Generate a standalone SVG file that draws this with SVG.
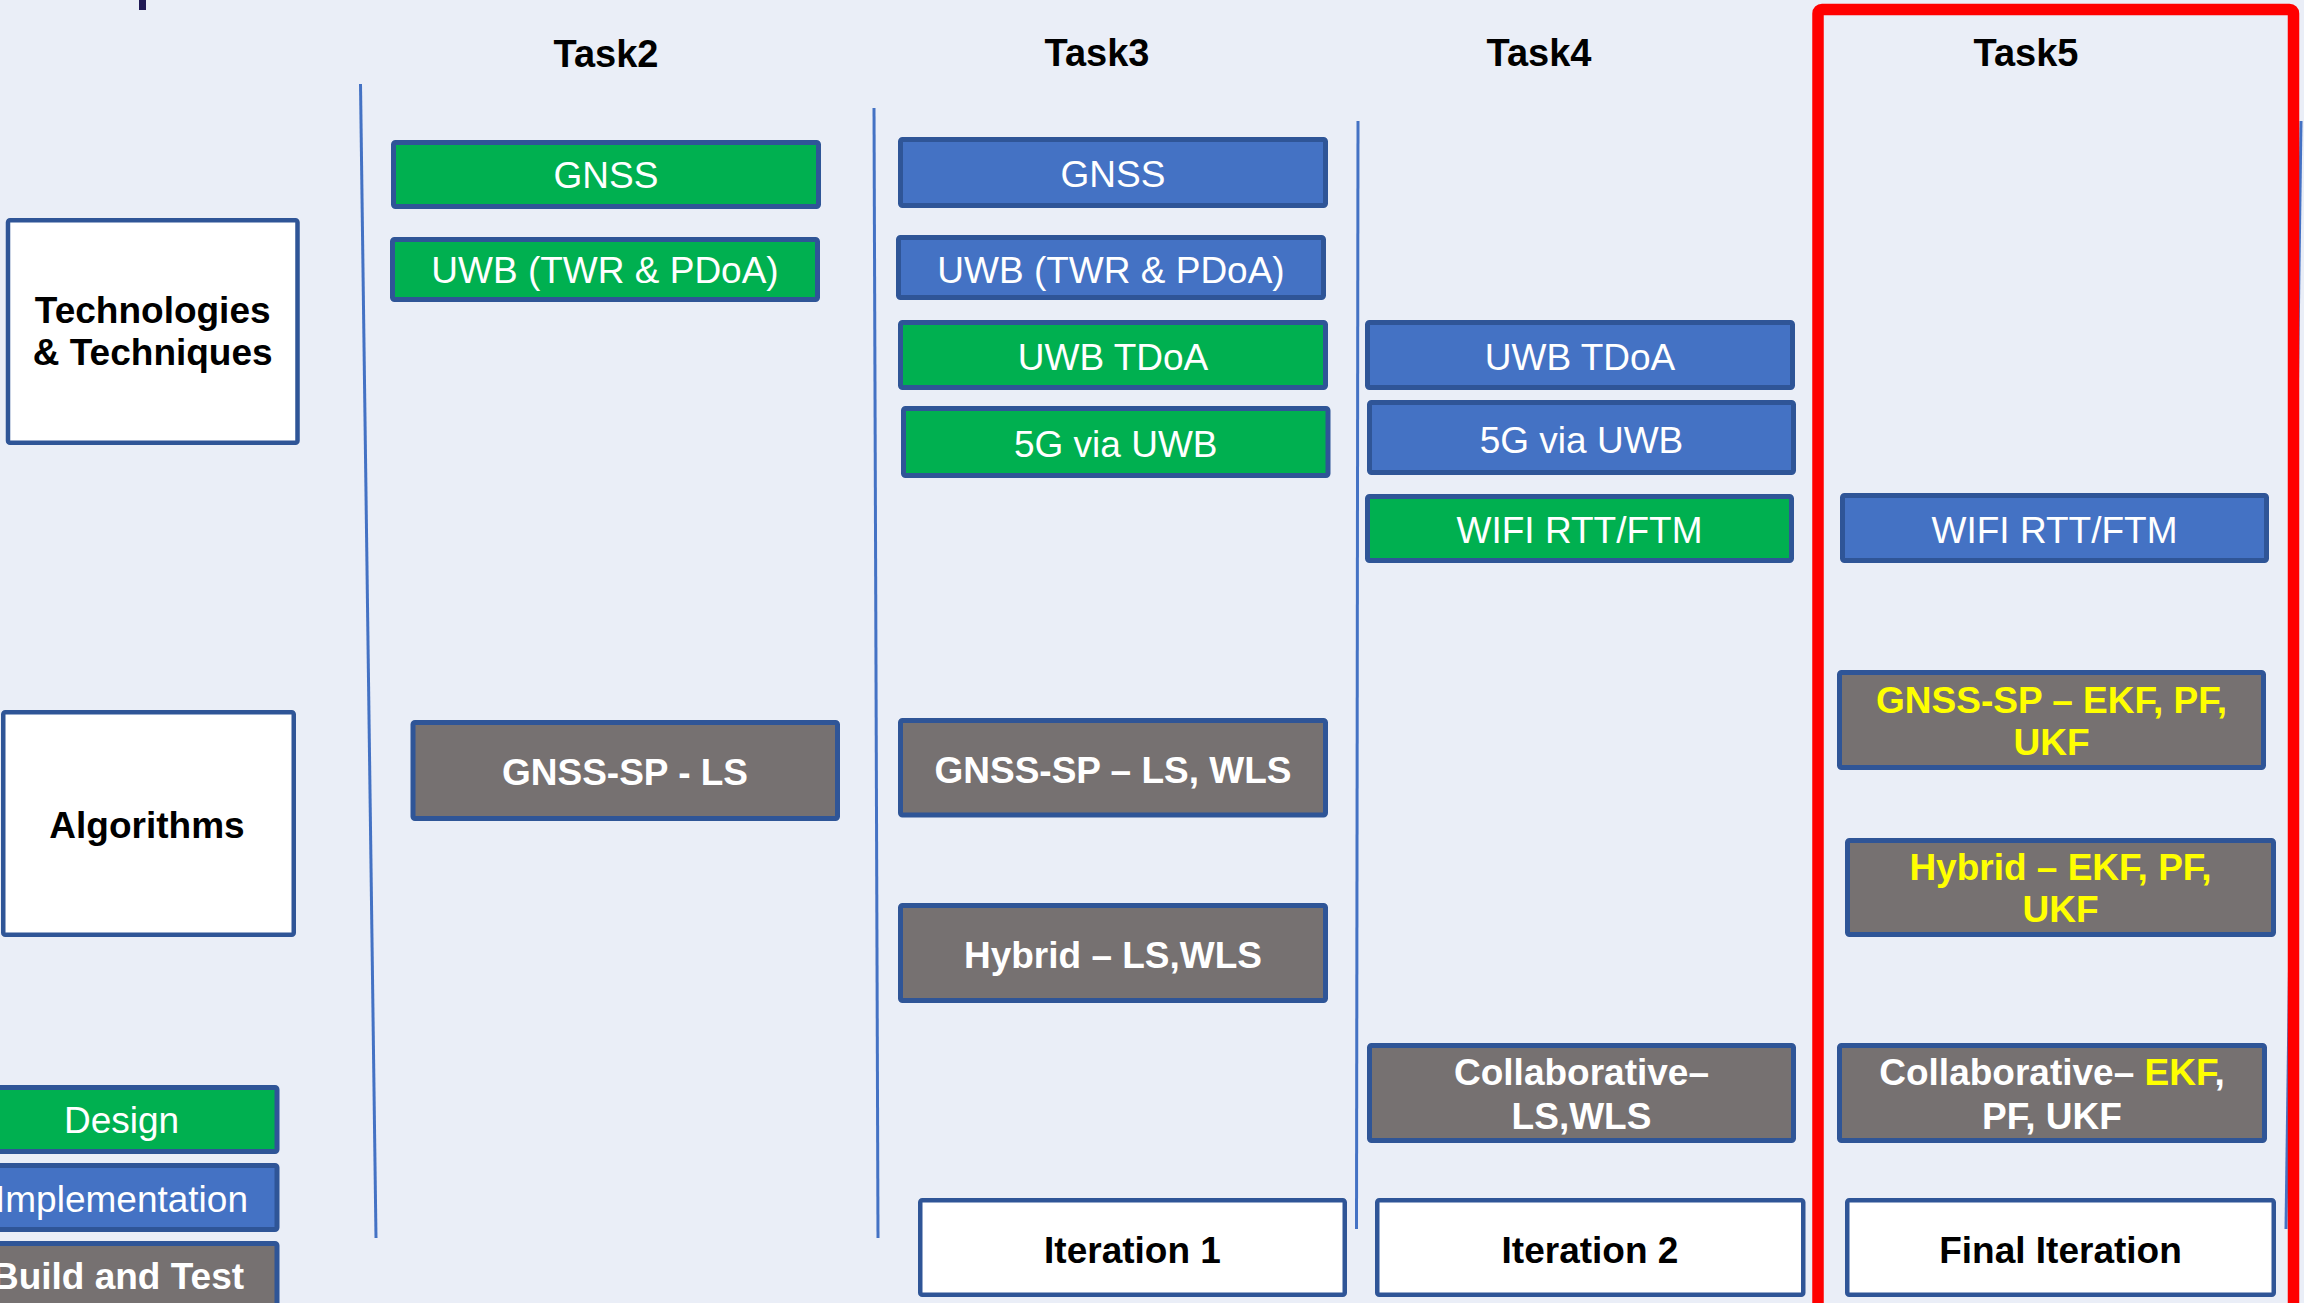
<svg xmlns="http://www.w3.org/2000/svg" width="2304" height="1303" viewBox="0 0 2304 1303">
<style>
  .bx { stroke: #2F5597; stroke-width: 5; }
  .wb { fill: #FFFFFF; stroke: #2F5597; stroke-width: 4.5; }
  .g { fill: #00B050; }
  .b { fill: #4472C4; }
  .k { fill: #767171; }
  text { font-family: "Liberation Sans", Arial, sans-serif; font-size: 37px; text-anchor: middle; }
  .t { fill: #FFFFFF; }
  .tb { fill: #FFFFFF; font-weight: bold; }
  .ty { fill: #FFFF00; font-weight: bold; }
  .hd { fill: #000000; font-weight: bold; font-size: 38px; }
  .lb { fill: #000000; font-weight: bold; }
  .vl { stroke: #4472C4; stroke-width: 3; fill: none; }
</style>
<rect x="0" y="0" width="2304" height="1303" fill="#EAEEF7"/>
<rect x="139" y="0" width="7" height="10" fill="#201A55"/>

<g id="connectors">
  <line class="vl" x1="360.5" y1="84" x2="376" y2="1238"/>
  <line class="vl" x1="874" y1="108" x2="878" y2="1238"/>
  <line class="vl" x1="1358" y1="121" x2="1356.5" y2="1229"/>
  <line class="vl" x1="2301" y1="121" x2="2286" y2="1229"/>
</g>

<g id="headers">
  <text class="hd" x="606" y="67">Task2</text>
  <text class="hd" x="1097" y="66">Task3</text>
  <text class="hd" x="1539" y="66">Task4</text>
  <text class="hd" x="2026" y="66">Task5</text>
</g>

<g id="task5-frame">
  <rect x="1818" y="9.5" width="475.5" height="1320" rx="4" fill="none" stroke="#FF0000" stroke-width="11.5"/>
</g>

<g id="tech-label">
  <rect class="wb" x="8" y="220.25" width="289.5" height="222.5" rx="2"/>
  <text class="lb" x="152.7" y="323">Technologies</text>
  <text class="lb" x="152.7" y="365">&amp; Techniques</text>
</g>
<g id="alg-label">
  <rect class="wb" x="3.25" y="712.25" width="290.5" height="222.5" rx="2"/>
  <text class="lb" x="147" y="838">Algorithms</text>
</g>
<g id="legend-design">
  <rect class="bx g" x="-40" y="1087.5" width="317" height="64" rx="2"/>
  <text class="t" x="121.5" y="1133">Design</text>
</g>
<g id="legend-impl">
  <rect class="bx b" x="-40" y="1165.5" width="317" height="64" rx="2"/>
  <text class="t" x="121.5" y="1212">Implementation</text>
</g>
<g id="legend-build">
  <rect class="bx k" x="-40" y="1243.5" width="317" height="70" rx="2"/>
  <text class="tb" x="118" y="1289">Build and Test</text>
</g>

<g id="t2-gnss">
  <rect class="bx g" x="393.5" y="142.5" width="425" height="64" rx="2"/>
  <text class="t" x="606" y="188">GNSS</text>
</g>
<g id="t2-uwb">
  <rect class="bx g" x="392.5" y="239.5" width="425" height="60" rx="2"/>
  <text class="t" x="605" y="283">UWB (TWR &amp; PDoA)</text>
</g>
<g id="t2-gnsssp">
  <rect class="bx k" x="413" y="722.5" width="424.5" height="96" rx="2"/>
  <text class="tb" x="625" y="784.5">GNSS-SP - LS</text>
</g>

<g id="t3-gnss">
  <rect class="bx b" x="900.5" y="139.5" width="425" height="66" rx="2"/>
  <text class="t" x="1113" y="187">GNSS</text>
</g>
<g id="t3-uwb">
  <rect class="bx b" x="898.5" y="237.5" width="425" height="60" rx="2"/>
  <text class="t" x="1111" y="282.5">UWB (TWR &amp; PDoA)</text>
</g>
<g id="t3-tdoa">
  <rect class="bx g" x="900.5" y="322.5" width="425" height="65" rx="2"/>
  <text class="t" x="1113" y="370">UWB TDoA</text>
</g>
<g id="t3-5g">
  <rect class="bx g" x="903.5" y="408.5" width="424.5" height="67" rx="2"/>
  <text class="t" x="1115.75" y="456.5">5G via UWB</text>
</g>
<g id="t3-gnsssp">
  <rect class="bx k" x="900.5" y="720.5" width="425" height="94.5" rx="2"/>
  <text class="tb" x="1113" y="782.5">GNSS-SP – LS, WLS</text>
</g>
<g id="t3-hybrid">
  <rect class="bx k" x="900.5" y="905.5" width="425" height="95" rx="2"/>
  <text class="tb" x="1113" y="967.5">Hybrid – LS,WLS</text>
</g>
<g id="iter1">
  <rect class="wb" x="920.25" y="1200.25" width="424.5" height="94.5" rx="2"/>
  <text class="lb" x="1132.5" y="1263">Iteration 1</text>
</g>

<g id="t4-tdoa">
  <rect class="bx b" x="1367.5" y="322.5" width="425" height="65" rx="2"/>
  <text class="t" x="1580" y="370">UWB TDoA</text>
</g>
<g id="t4-5g">
  <rect class="bx b" x="1369.5" y="402.5" width="424" height="70" rx="2"/>
  <text class="t" x="1581.5" y="452.5">5G via UWB</text>
</g>
<g id="t4-wifi">
  <rect class="bx g" x="1367.5" y="496.5" width="424" height="64" rx="2"/>
  <text class="t" x="1579.5" y="543">WIFI RTT/FTM</text>
</g>
<g id="t4-collab">
  <rect class="bx k" x="1369.5" y="1045.5" width="424" height="95" rx="2"/>
  <text class="tb" x="1581.5" y="1085">Collaborative–</text>
  <text class="tb" x="1581.5" y="1128.5">LS,WLS</text>
</g>
<g id="iter2">
  <rect class="wb" x="1377.25" y="1200.25" width="426" height="94.5" rx="2"/>
  <text class="lb" x="1590" y="1263">Iteration 2</text>
</g>

<g id="t5-wifi">
  <rect class="bx b" x="1842.5" y="495.5" width="424" height="65" rx="2"/>
  <text class="t" x="2054.5" y="542.5">WIFI RTT/FTM</text>
</g>
<g id="t5-gnsssp">
  <rect class="bx k" x="1839.5" y="672.5" width="424" height="95" rx="2"/>
  <text class="ty" x="2051.5" y="712.5">GNSS-SP – EKF, PF,</text>
  <text class="ty" x="2051.5" y="755">UKF</text>
</g>
<g id="t5-hybrid">
  <rect class="bx k" x="1847.5" y="840.5" width="426" height="94" rx="2"/>
  <text class="ty" x="2060.5" y="879.5">Hybrid – EKF, PF,</text>
  <text class="ty" x="2060.5" y="922">UKF</text>
</g>
<g id="t5-collab">
  <rect class="bx k" x="1839.5" y="1045.5" width="425" height="95" rx="2"/>
  <text class="tb" x="2052" y="1085">Collaborative– <tspan fill="#FFFF00">EKF</tspan>,</text>
  <text class="tb" x="2052" y="1128.5">PF, UKF</text>
</g>
<g id="iter-final">
  <rect class="wb" x="1847.25" y="1200.25" width="426.5" height="94.5" rx="2"/>
  <text class="lb" x="2060.5" y="1263">Final Iteration</text>
</g>
</svg>
